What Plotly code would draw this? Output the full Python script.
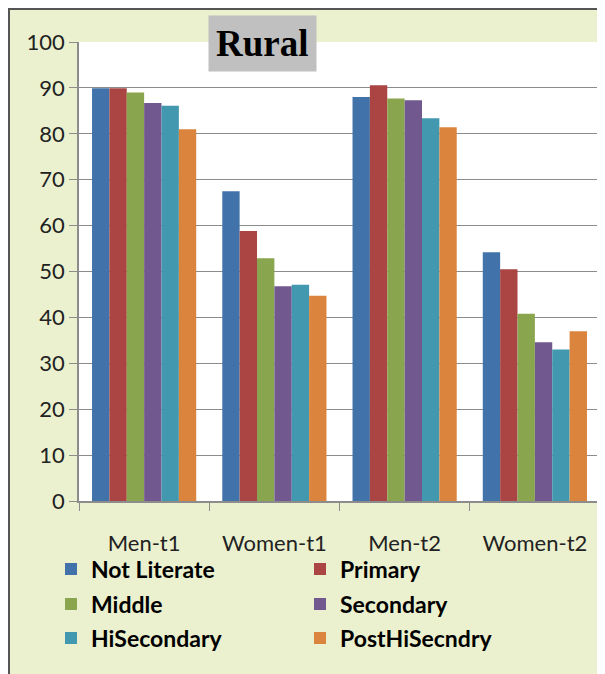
import plotly.graph_objects as go

categories = ["Men-t1", "Women-t1", "Men-t2", "Women-t2"]

not_literate = [89.9, 67.5, 88.0, 54.2]
primary = [89.9, 58.8, 90.6, 50.5]
middle = [89.0, 52.9, 87.7, 40.8]
secondary = [86.7, 46.8, 87.3, 34.6]
hi_secondary = [86.1, 47.1, 83.4, 33.0]
post_hi = [81.0, 44.7, 81.4, 37.0]

series = [
    ("Not Literate", not_literate, "#4172A9"),
    ("Primary", primary, "#AA4543"),
    ("Middle", middle, "#89A54E"),
    ("Secondary", secondary, "#71588F"),
    ("HiSecondary", hi_secondary, "#4198AF"),
    ("PostHiSecndry", post_hi, "#DB843D"),
]

# page body has an 8px margin, so the figure is drawn from (8, 8)
OFF = 8
W, H = 605 - OFF, 674 - OFF
L, R, T, B = 79 - OFF, 5, 42 - OFF, 173
pw, ph = W - L - R, H - T - B


def px(x):
    return (x - OFF - L) / pw


def py(y):
    return (H - B - (y - OFF)) / ph


legend_rows = ["legend", "legend2", "legend3"]
row_y = [569, 604, 638]

fig = go.Figure()
for i, (name, vals, color) in enumerate(series):
    fig.add_bar(x=categories, y=vals, name=name, legend=legend_rows[i // 2],
                marker=dict(color=color, line=dict(width=0)))

legend_style = dict(
    orientation="h", xanchor="left", yanchor="middle",
    entrywidth=204, entrywidthmode="pixels",
    font=dict(family="Lato", size=23, color="black", weight="bold"),
    bgcolor="rgba(0,0,0,0)",
)

fig.update_layout(
    width=W,
    height=H,
    margin=dict(l=L, r=R, t=T, b=B),
    paper_bgcolor="white",
    plot_bgcolor="white",
    barmode="group",
    bargap=0.2,
    bargroupgap=0,
    font=dict(family="Lato", size=22, color="#222222"),
    shapes=[
        dict(type="rect", xref="paper", yref="paper",
             x0=px(9), x1=px(620), y0=py(700), y1=py(9),
             fillcolor="#EBF1CE", line=dict(color="#555555", width=2), layer="below"),
        dict(type="rect", xref="paper", yref="paper",
             x0=0, x1=1, y0=0, y1=1,
             fillcolor="white", line=dict(width=0), layer="below"),
    ],
    annotations=[
        dict(text="<b>Rural</b>", xref="paper", yref="paper",
             x=px(262), y=py(15), xanchor="center", yanchor="top",
             showarrow=False, bgcolor="#C0C0C0", borderpad=7,
             font=dict(family="Liberation Serif", size=37, color="black")),
    ],
    showlegend=True,
)
for key, yy in zip(legend_rows, row_y):
    fig.update_layout({key: dict(legend_style, x=px(51), y=py(yy))})

fig.update_yaxes(
    range=[0, 100], dtick=10, showgrid=True, gridcolor="#8C8C8C", gridwidth=1.3,
    showline=True, linecolor="#8C8C8C", linewidth=1.5,
    ticks="outside", ticklen=8, tickcolor="#8C8C8C", tickwidth=1.3,
    tickfont=dict(size=22, color="#222222"),
)
fig.update_xaxes(
    showline=True, linecolor="#8C8C8C", linewidth=1.5,
    ticks="outside", tickson="boundaries", ticklen=8, tickcolor="#8C8C8C", tickwidth=1.3,
    ticklabelstandoff=22, tickfont=dict(size=22, color="#222222"),
)

fig.write_html("out.html")
